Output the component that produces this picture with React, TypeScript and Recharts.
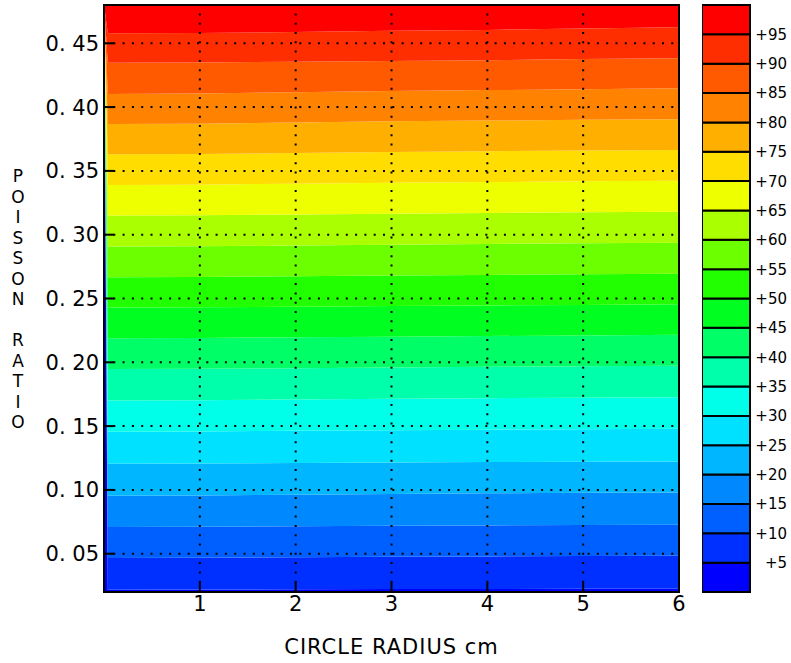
import { ComposedChart, Area, XAxis, YAxis, ReferenceLine, ReferenceArea, BarChart, Bar } from "recharts"

// contour levels (percent) and the radius columns the contour heights were read at
const levels = [5, 10, 15, 20, 25, 30, 35, 40, 45, 50, 55, 60, 65, 70, 75, 80, 85, 90, 95]
const radii = [0, 0.04, 1, 2, 3, 4, 5, 6]

// Poisson ratio where each contour line sits, per radius column
const c05 = [0.48, 0.0218, 0.0219, 0.0221, 0.0223, 0.0224, 0.0225, 0.0226]
const c10 = [0.48, 0.0466, 0.0468, 0.0472, 0.0476, 0.0479, 0.0482, 0.0484]
const c15 = [0.48, 0.0709, 0.0711, 0.0715, 0.0719, 0.0722, 0.0725, 0.0727]
const c20 = [0.48, 0.0954, 0.0956, 0.0962, 0.0968, 0.0973, 0.0977, 0.098]
const c25 = [0.48, 0.1205, 0.1207, 0.1211, 0.1215, 0.1218, 0.1221, 0.1223]
const c30 = [0.48, 0.1456, 0.1458, 0.1463, 0.1468, 0.1472, 0.1476, 0.1479]
const c35 = [0.48, 0.1701, 0.1703, 0.1708, 0.1714, 0.1719, 0.1723, 0.1726]
const c40 = [0.48, 0.1947, 0.1949, 0.1954, 0.196, 0.1965, 0.1969, 0.1973]
const c45 = [0.48, 0.2189, 0.2191, 0.2196, 0.2201, 0.2206, 0.2211, 0.2215]
const c50 = [0.48, 0.2429, 0.2431, 0.2436, 0.2441, 0.2446, 0.245, 0.2454]
const c55 = [0.48, 0.2667, 0.2669, 0.2674, 0.268, 0.2685, 0.269, 0.2693]
const c60 = [0.48, 0.2907, 0.2909, 0.2915, 0.2922, 0.2927, 0.2932, 0.2936]
const c65 = [0.48, 0.315, 0.3152, 0.3158, 0.3165, 0.317, 0.3175, 0.3179]
const c70 = [0.48, 0.339, 0.3392, 0.34, 0.3407, 0.3412, 0.3418, 0.3422]
const c75 = [0.48, 0.3631, 0.3633, 0.364, 0.3648, 0.3654, 0.366, 0.3664]
const c80 = [0.48, 0.3868, 0.387, 0.388, 0.3889, 0.3894, 0.39, 0.3905]
const c85 = [0.48, 0.4103, 0.4106, 0.4117, 0.4126, 0.4133, 0.414, 0.4148]
const c90 = [0.48, 0.4348, 0.435, 0.4356, 0.4362, 0.4368, 0.4376, 0.4383]
const c95 = [0.48, 0.4578, 0.458, 0.4588, 0.4598, 0.4605, 0.4615, 0.4625]

const contourLines = [c05, c10, c15, c20, c25, c30, c35, c40, c45, c50, c55, c60, c65, c70, c75, c80, c85, c90, c95]

// fill for each band, from 0-5 up to 95-100
const bandColors = [
	"#0000ff", "#0030ff", "#0060ff", "#0088ff", "#00b6ff",
	"#00e0ff", "#00ffe8", "#00ffaa", "#00ff66", "#00ff20",
	"#22ff00", "#6cff00", "#aaff00", "#eeff00", "#ffdd00",
	"#ffaf00", "#ff8200", "#ff5a00", "#ff2e00", "#ff0000",
]

const xTicks = [1, 2, 3, 4, 5, 6]
const yTicks = [0.05, 0.1, 0.15, 0.2, 0.25, 0.3, 0.35, 0.4, 0.45]
const gridX = [1, 2, 3, 4, 5]
const xMin = 0
const xMax = 6
const yMin = 0.02
const yMax = 0.48

const rows = radii.map((r, i) => {
	const row: Record<string, any> = { r }
	const edges = [yMin, ...contourLines.map((c) => c[i]), yMax]
	bandColors.forEach((_, b) => {
		row["b" + b] = [edges[b], edges[b + 1]]
	})
	return row
})

const scaleRow: Record<string, any> = { name: "scale" }
const scaleEdges = [0, ...levels, 100]
bandColors.forEach((_, b) => {
	scaleRow["s" + b] = scaleEdges[b + 1] - scaleEdges[b]
})

const font = "'DejaVu Sans', sans-serif"
const frame = { stroke: "#000", strokeWidth: 2 }
const chartMargin = { top: 5, right: 112, bottom: 0, left: 0 }

function formatRatio(v: number) {
	return "0. " + String(Math.round(v * 100)).padStart(2, "0")
}

// letters stacked upright, one text element
function StackedTitle() {
	const word1 = "POISSON".split("")
	const word2 = "RATIO".split("")
	return (
		<text x={18} y={182} textAnchor="middle" fontSize={17} fontFamily={font} fill="#000">
			{word1.map((ch, i) => (
				<tspan key={"a" + i} x={18} dy={i === 0 ? 0 : 20.5}>
					{ch}
				</tspan>
			))}
			{word2.map((ch, i) => (
				<tspan key={"b" + i} x={18} dy={i === 0 ? 41 : 20.5}>
					{ch}
				</tspan>
			))}
		</text>
	)
}

function ScaleTick(props: any) {
	const { x, y, payload } = props
	return (
		<text x={x + 37} y={y} dy="0.36em" textAnchor="end" fontSize={15} fontFamily={font} fill="#000">
			{"+" + payload.value}
		</text>
	)
}

export default function App() {
	return (
		<div style={{ position: "absolute", left: 0, top: 0, width: 791, height: 663, background: "#fff" }}>
			{/* colour bands */}
			<div style={{ position: "absolute", left: 0, top: 0 }}>
				<ComposedChart width={791} height={663} data={rows} margin={chartMargin}>
					<XAxis type="number" dataKey="r" domain={[xMin, xMax]} height={71} tick={false} axisLine={false} tickLine={false} />
					<YAxis type="number" domain={[yMin, yMax]} allowDataOverflow width={104} tick={false} axisLine={false} tickLine={false} />
					{bandColors.map((color, b) => (
						<Area
							key={b}
							type="linear"
							dataKey={"b" + b}
							fill={color}
							fillOpacity={1}
							stroke="none"
							dot={false}
							activeDot={false}
							isAnimationActive={false}
						/>
					))}
				</ComposedChart>
			</div>
			{/* axes, ticks, dotted grid and frame drawn over the bands */}
			<div style={{ position: "absolute", left: 0, top: 0 }}>
				<ComposedChart width={791} height={663} data={rows} margin={chartMargin}>
					<XAxis
						type="number"
						dataKey="r"
						domain={[xMin, xMax]}
						ticks={xTicks}
						interval={0}
						height={71}
						tickSize={-10}
						tickMargin={14}
						axisLine={frame}
						tickLine={frame}
						tick={{ fill: "#000", fontSize: 21, fontFamily: font }}
						label={{ value: "CIRCLE RADIUS cm", position: "insideBottom", offset: 9, fill: "#000", fontSize: 21, fontFamily: font, letterSpacing: 1 }}
					/>
					<XAxis xAxisId="top" orientation="top" type="number" dataKey="r" domain={[xMin, xMax]} ticks={xTicks} interval={0} height={0} mirror tick={false} tickSize={10} axisLine={frame} tickLine={frame} />
					<YAxis
						type="number"
						domain={[yMin, yMax]}
						allowDataOverflow
						ticks={yTicks}
						interval={0}
						width={104}
						tickSize={-10}
						tickMargin={15}
						tickFormatter={formatRatio}
						axisLine={frame}
						tickLine={frame}
						tick={{ fill: "#000", fontSize: 21, fontFamily: font }}
						label={{ content: <StackedTitle /> }}
					/>
					<YAxis yAxisId="right" orientation="right" type="number" domain={[yMin, yMax]} allowDataOverflow ticks={yTicks} interval={0} width={0} mirror tick={false} tickSize={10} axisLine={frame} tickLine={frame} />
					{gridX.map((v) => (
						<ReferenceLine key={"gx" + v} x={v} stroke="#000" strokeWidth={2} strokeDasharray="2 7.3" />
					))}
					{yTicks.map((v) => (
						<ReferenceLine key={"gy" + v} y={v} stroke="#000" strokeWidth={2} strokeDasharray="2 7.3" />
					))}
					<ReferenceArea x1={xMin} x2={xMax} y1={yMin} y2={yMax} fill="none" stroke="#000" strokeWidth={2} />
				</ComposedChart>
			</div>
			<div style={{ position: "absolute", left: 702, top: 0 }}>
				<BarChart width={89} height={663} data={[scaleRow]} margin={{ top: 5, right: 0, bottom: 71, left: 0 }} barCategoryGap={0}>
					<XAxis dataKey="name" hide />
					<YAxis
						orientation="right"
						type="number"
						domain={[0, 100]}
						ticks={levels}
						interval={0}
						width={41}
						tickSize={0}
						tickMargin={0}
						axisLine={false}
						tickLine={false}
						tick={<ScaleTick />}
					/>
					{bandColors.map((color, b) => (
						<Bar key={b} dataKey={"s" + b} stackId="scale" fill={color} stroke="#000" strokeWidth={2} isAnimationActive={false} />
					))}
				</BarChart>
			</div>
		</div>
	)
}
